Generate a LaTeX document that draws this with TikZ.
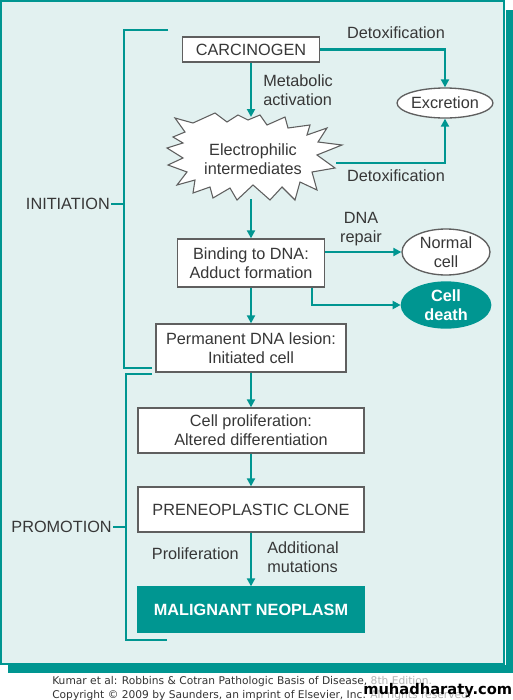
\documentclass[tikz,border=0pt]{standalone}
\usepackage{fontspec}
\setmainfont{Liberation Sans}
\newfontfamily\footfont{DejaVu Sans}
\usetikzlibrary{arrows.meta,shapes.geometric}
\definecolor{tealc}{RGB}{0,150,145}
\definecolor{panel}{RGB}{226,241,240}
\definecolor{boxline}{RGB}{95,95,95}
\definecolor{ink}{RGB}{55,55,55}

\begin{document}
\begin{tikzpicture}[x=0.75pt,y=0.75pt,yscale=-1,xscale=1,
    lbl/.style={font=\fontsize{12.2}{14.3}\selectfont, text=ink, inner sep=0.75pt, align=center},
    stagebox/.style={lbl, draw=boxline, line width=1pt, fill=white, inner sep=0pt},
    tealbox/.style={stagebox, draw=tealc, fill=tealc, text=white, font=\fontsize{12.2}{14.3}\selectfont\bfseries},
    fate/.style={ellipse, lbl, draw=boxline, line width=1pt, fill=white, inner sep=0pt},
    flow/.style={draw=tealc, line width=1.8pt, -{Triangle[length=6pt,width=6pt]}},
    bracket/.style={draw=tealc, line width=1.5pt}]
        \useasboundingbox (0,0) rectangle (513,700);

        %Shape: Shadow and panel
        \fill [tealc] (506,10) rectangle (513,673) ;
        \fill [tealc] (8,665) rectangle (513,673) ;
        \draw [tealc, line width=1.2pt, fill=panel] (1,1) rectangle (504,664) ;

        %Shape: Starburst
        \draw [boxline, line width=0.8pt, fill=white] (175,118) -- (193,123) -- (215,113) -- (227,122) -- (238,115) -- (248,120) -- (260,115) -- (267,125) -- (285,117) -- (288,128) -- (310,125) -- (307,135) -- (327,128) -- (318,142) -- (342,145) -- (317,155) -- (335,168) -- (312,172) -- (317,190) -- (300,182) -- (295,200) -- (282,187) -- (270,200) -- (253,185) -- (237,200) -- (230,188) -- (213,198) -- (210,187) -- (193,193) -- (195,180) -- (177,185) -- (187,172) -- (168,165) -- (183,158) -- (167,148) -- (183,143) -- (173,137) -- (185,132) -- cycle ;
        \coordinate (elec-n) at (251,117) ;
        \coordinate (elec-s) at (251,199) ;
        \coordinate (elec-e) at (336,163) ;

        % Stage nodes
        \node [stagebox, minimum width=102.75pt, minimum height=18.75pt] (carc) at (251,49.5) {CARCINOGEN};
        \node [lbl] (elec) at (253,159) {Electrophilic\\intermediates};
        \node [stagebox, minimum width=110.25pt, minimum height=36pt] (bind) at (251,263) {Binding to DNA:\\Adduct formation};
        \node [stagebox, minimum width=142.5pt, minimum height=36pt] (perm) at (251,348) {Permanent DNA lesion:\\Initiated cell};
        \node [stagebox, minimum width=169.5pt, minimum height=33.75pt] (prolif) at (251,430.5) {Cell proliferation:\\Altered differentiation};
        \node [stagebox, minimum width=169.5pt, minimum height=33.75pt] (preneo) at (251,509.5) {PRENEOPLASTIC CLONE};
        \node [tealbox, minimum width=169.5pt, minimum height=33.75pt] (malig) at (251,609.5) {MALIGNANT NEOPLASM};

        % Outcome nodes
        \node [fate, minimum width=66pt, minimum height=22.5pt] (excr) at (445,103) {Excretion};
        \node [fate, minimum width=66pt, minimum height=34.5pt] (normal) at (446,252) {Normal\\cell};
        \node [fate, draw=tealc, fill=tealc, text=white, font=\fontsize{12.2}{14.3}\selectfont\bfseries, minimum width=67pt, minimum height=34.5pt] (death) at (446,305) {Cell\\death};

        % Text Node
        \node [lbl] (detox1) at (396,33) {Detoxification};
        \node [lbl] (detox2) at (396,176) {Detoxification};
        \node [lbl, anchor=west, align=left] (metab) at (262,90) {Metabolic\\activation};
        \node [lbl] (repair) at (361,229) {DNA\\repair};
        \node [lbl, anchor=east] (prolabel) at (240,554) {Proliferation};
        \node [lbl, anchor=west, align=left] (addmut) at (266,557) {Additional\\mutations};
        \node [lbl, anchor=east] (init) at (111,204) {INITIATION};
        \node [lbl, anchor=east] (prom) at (113,527) {PROMOTION};

        % Connectors
        \draw [flow] (carc.south) -- (elec-n) ;
        \draw [flow] (carc.east) -| (excr.north) ;
        \draw [flow] (elec-e) -| (excr.south) ;
        \draw [flow] (elec-s) -- (bind.north) ;
        \draw [flow] (bind.east |- normal.west) -- (normal.west) ;
        \draw [flow] (bind.south east) ++(-13,0) |- (death.west) ;
        \draw [flow] (bind.south) -- (perm.north) ;
        \draw [flow] (perm.south) -- (prolif.north) ;
        \draw [flow] (prolif.south) -- (preneo.north) ;
        \draw [flow] (preneo.south) -- (malig.north) ;

        %Shape: Brackets
        \draw [bracket] (168,30) -- (124,30) -- (124,368) -- (152,368) ;
        \draw [bracket] (init.east) -- (124,204) ;
        \draw [bracket] (152,374) -- (126,374) -- (126,640) -- (167,640) ;
        \draw [bracket] (prom.east) -- (126,527) ;

        % Footer
        \node [anchor=base west, inner sep=0pt, font=\footfont\fontsize{8}{9}\selectfont, text=black!80] (cite) at (52,684) {Kumar et al: Robbins \& Cotran Pathologic Basis of Disease, \textcolor{gray!60}{8th Edition.}};
        \node [anchor=base west, inner sep=0pt, font=\footfont\fontsize{8}{9}\selectfont, text=black!80] (copy) at (52,698) {Copyright © 2009 by Saunders, an imprint of Elsevier, Inc. \textcolor{gray!60}{All rights reserved.}};
        \node [anchor=base west, inner sep=0pt, font=\footfont\fontsize{11}{12}\selectfont\bfseries, text=black] (mark) at (363,694) {muhadharaty.com};

\end{tikzpicture}
\end{document}
